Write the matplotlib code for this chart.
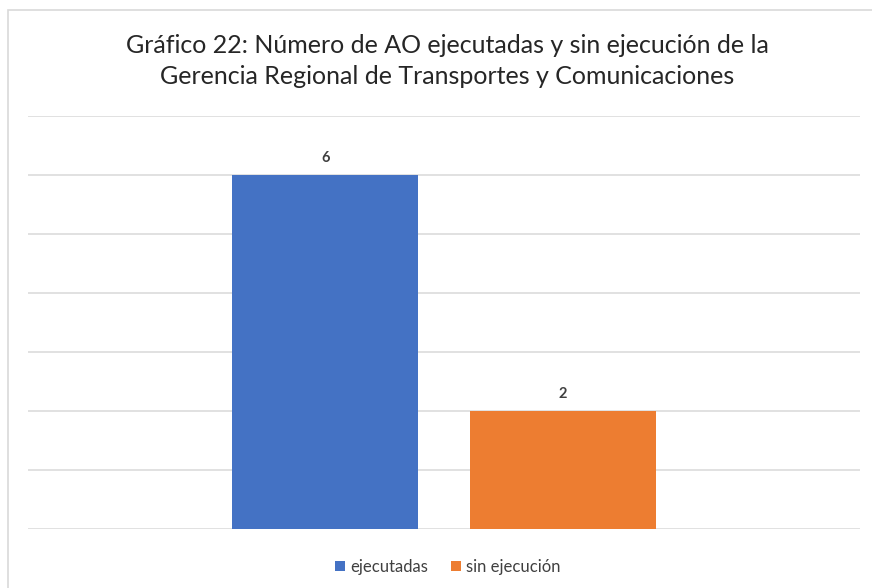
import matplotlib
matplotlib.use("Agg")
import matplotlib.pyplot as plt
from matplotlib.patches import Rectangle

title = "Gráfico 22: Número de AO ejecutadas y sin ejecución de la\nGerencia Regional de Transportes y Comunicaciones"
series = ["ejecutadas", "sin ejecución"]
values = [6, 2]
colors = ["#4472C4", "#ED7D31"]

plt.rcParams['font.family'] = ['Lato', 'DejaVu Sans']

fig = plt.figure(figsize=(8.72, 5.88), dpi=100)
W, H = 872, 588
ax = fig.add_axes([28 / W, 1 - 529 / H, 832 / W, 413 / H])

# chart border
fig.patches.append(Rectangle((8 / W, -0.1), 1.2, 1.1 - 10 / H, transform=fig.transFigure,
                             fill=False, edgecolor="#d9d9d9", linewidth=1.2))

bw = 0.2236
offs = [-0.1425, 0.1425]
for s, v, c, o in zip(series, values, colors, offs):
    b = ax.bar(o, v, width=bw, color=c, label=s, zorder=3)
    ax.text(o, v + 0.17, str(v), ha="center", va="bottom", fontsize=10.5,
            fontweight="bold", color="#404040")

ax.set_xlim(-0.5, 0.5)
ax.set_ylim(0, 7)
ax.set_yticks(range(0, 8))
ax.yaxis.grid(True, color="#d9d9d9", linewidth=1.1, zorder=0)
ax.set_xticks([])
ax.tick_params(left=False, labelleft=False)
for sp in ax.spines.values():
    sp.set_visible(False)

fig.text(447 / W, 1 - 61 / H, title, ha="center", va="center", fontsize=18,
         color="#262626", linespacing=1.42)

leg = fig.legend(loc="center", bbox_to_anchor=(448 / W, 1 - 567 / H), ncol=2, frameon=False,
                 fontsize=12, handlelength=0.6, handleheight=0.6, handletextpad=0.3,
                 columnspacing=1.4, labelcolor="#404040")

fig.savefig("out.png", dpi=100)
